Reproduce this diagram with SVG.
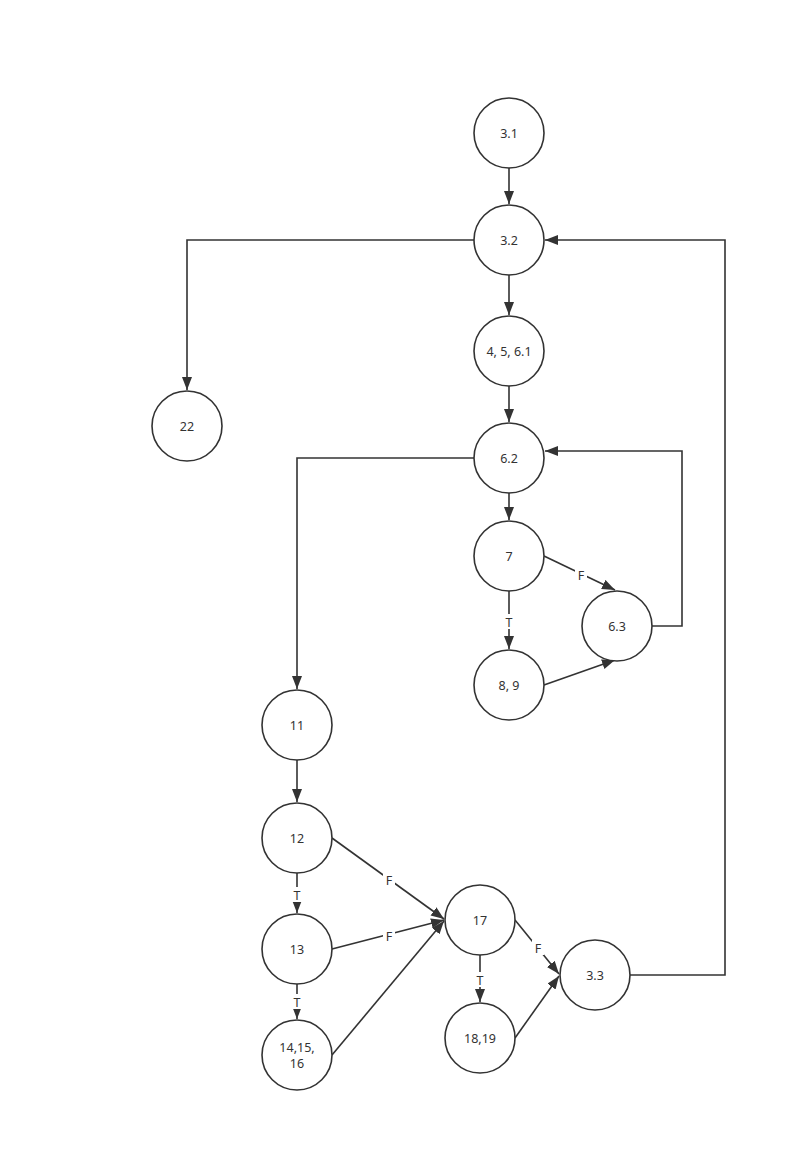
<svg xmlns="http://www.w3.org/2000/svg" width="786" height="1152" viewBox="0 0 786 1152">
<style>
.n ellipse{fill:#fff;stroke:#333;stroke-width:1.6}
.n text{font-family:"Noto Sans","Open Sans",sans-serif;font-size:12.5px;fill:#333;text-anchor:middle;dominant-baseline:central}
.e path{fill:none;stroke:#333;stroke-width:1.6}
.lbl rect{fill:#fff}
.lbl text{font-family:"Noto Sans","Open Sans",sans-serif;font-size:12.5px;fill:#333;text-anchor:middle;dominant-baseline:central}
</style>
<defs>
<marker id="a" markerUnits="userSpaceOnUse" markerWidth="14" markerHeight="12" refX="13" refY="5" orient="auto">
<path d="M0,0 L13,5 L0,10 z" fill="#333"/>
</marker>
</defs>
<rect width="786" height="1152" fill="#fff"/>
<g id="connectors" class="e">
<path d="M509,168 V204" marker-end="url(#a)"/>
<path d="M509,275 V315" marker-end="url(#a)"/>
<path d="M474,240 H187 V390" marker-end="url(#a)"/>
<path d="M509,386 V422" marker-end="url(#a)"/>
<path d="M509,493 V520" marker-end="url(#a)"/>
<path d="M474,458 H297 V689" marker-end="url(#a)"/>
<path d="M509,591 V649" marker-end="url(#a)"/>
<path d="M544,556 L615,590" marker-end="url(#a)"/>
<path d="M544,685 L615,660" marker-end="url(#a)"/>
<path d="M652,626 H682 V451 H545" marker-end="url(#a)"/>
<path d="M297,760 V802" marker-end="url(#a)"/>
<path d="M297,873 V913" marker-end="url(#a)"/>
<path d="M297,984 V1019" marker-end="url(#a)"/>
<path d="M332,838 L444,919" marker-end="url(#a)"/>
<path d="M332,949 L444,920" marker-end="url(#a)"/>
<path d="M332,1055 L444,921" marker-end="url(#a)"/>
<path d="M480,955 V1002" marker-end="url(#a)"/>
<path d="M515,920 L559,974" marker-end="url(#a)"/>
<path d="M515,1038 L559,976" marker-end="url(#a)"/>
<path d="M630,975 H725 V240 H545" marker-end="url(#a)"/>
</g>
<g id="labels" class="lbl">
<rect x="503" y="614" width="12" height="15"/><text x="509" y="622">T</text>
<rect x="575" y="567" width="12" height="15"/><text x="581" y="575">F</text>
<rect x="291" y="887" width="12" height="15"/><text x="297" y="895">T</text>
<rect x="291" y="994" width="12" height="15"/><text x="297" y="1002">T</text>
<rect x="383" y="872" width="12" height="15"/><text x="389" y="880">F</text>
<rect x="383" y="928" width="12" height="15"/><text x="389" y="936">F</text>
<rect x="474" y="972" width="12" height="15"/><text x="480" y="980">T</text>
<rect x="532" y="940" width="12" height="15"/><text x="538" y="948">F</text>
</g>
<g id="n31" class="n"><ellipse cx="509" cy="133" rx="35" ry="35"/><text x="509" y="133">3.1</text></g>
<g id="n32" class="n"><ellipse cx="509" cy="240" rx="35" ry="35"/><text x="509" y="240">3.2</text></g>
<g id="n4561" class="n"><ellipse cx="509" cy="351" rx="35" ry="35"/><text x="509" y="351">4, 5, 6.1</text></g>
<g id="n62" class="n"><ellipse cx="509" cy="458" rx="35" ry="35"/><text x="509" y="458">6.2</text></g>
<g id="n7" class="n"><ellipse cx="509" cy="556" rx="35" ry="35"/><text x="509" y="556">7</text></g>
<g id="n63" class="n"><ellipse cx="617" cy="626" rx="35" ry="35"/><text x="617" y="626">6.3</text></g>
<g id="n89" class="n"><ellipse cx="509" cy="685" rx="35" ry="35"/><text x="509" y="685">8, 9</text></g>
<g id="n22" class="n"><ellipse cx="187" cy="426" rx="35" ry="35"/><text x="187" y="426">22</text></g>
<g id="n11" class="n"><ellipse cx="297" cy="725" rx="35" ry="35"/><text x="297" y="725">11</text></g>
<g id="n12" class="n"><ellipse cx="297" cy="838" rx="35" ry="35"/><text x="297" y="838">12</text></g>
<g id="n13" class="n"><ellipse cx="297" cy="949" rx="35" ry="35"/><text x="297" y="949">13</text></g>
<g id="n141516" class="n"><ellipse cx="297" cy="1055" rx="35" ry="35"/><text x="297" y="1047">14,15,</text><text x="297" y="1063">16</text></g>
<g id="n17" class="n"><ellipse cx="480" cy="920" rx="35" ry="35"/><text x="480" y="920">17</text></g>
<g id="n1819" class="n"><ellipse cx="480" cy="1038" rx="35" ry="35"/><text x="480" y="1038">18,19</text></g>
<g id="n33" class="n"><ellipse cx="595" cy="975" rx="35" ry="35"/><text x="595" y="975">3.3</text></g>
</svg>
